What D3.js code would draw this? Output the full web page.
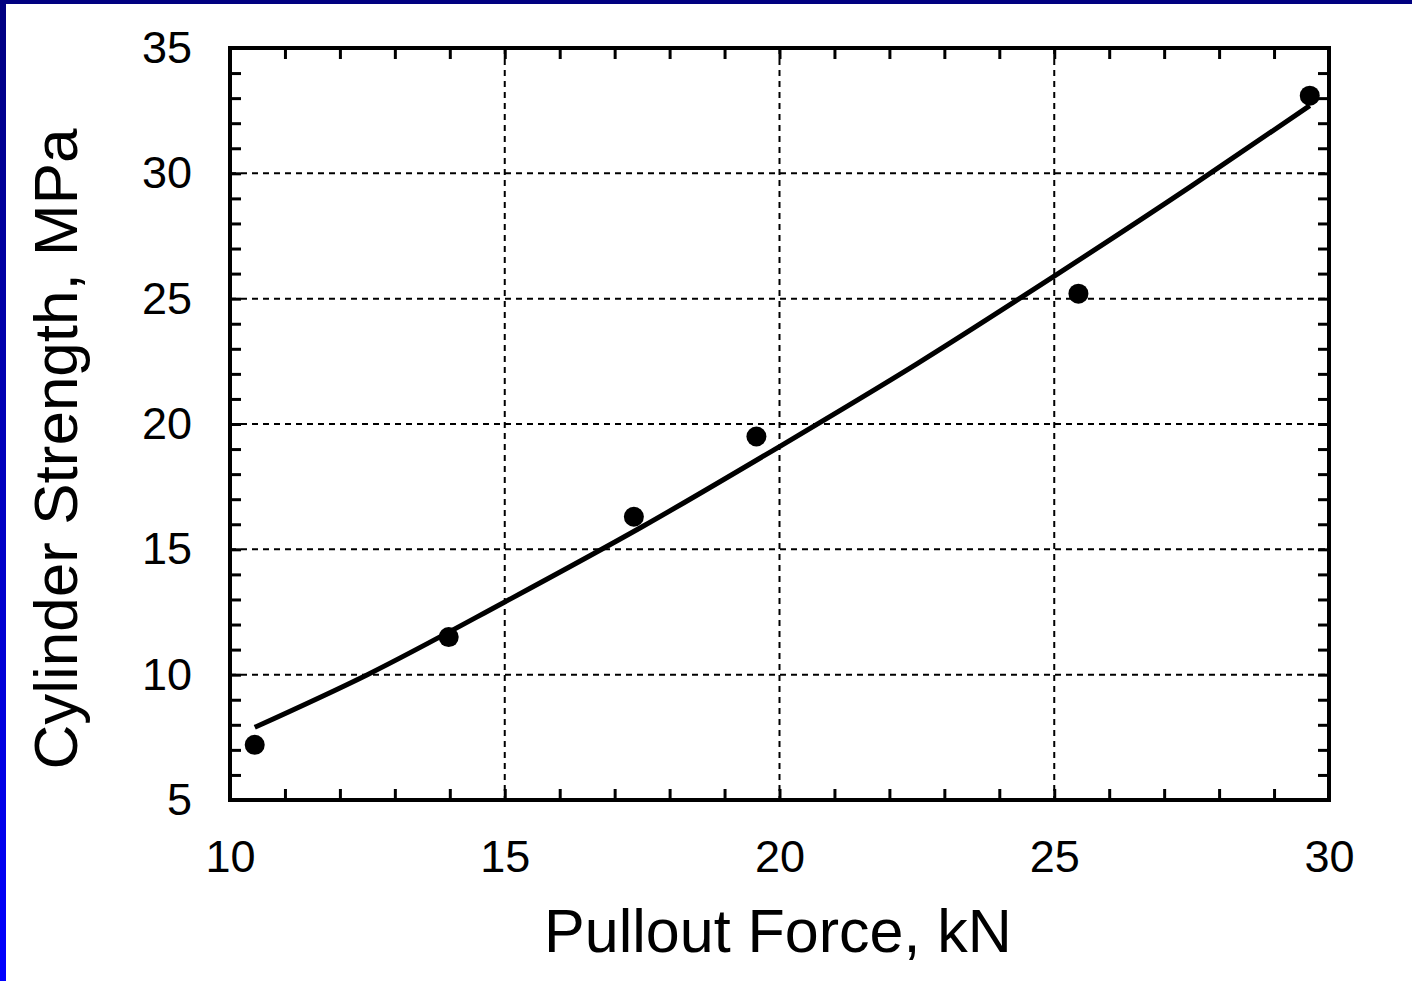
<!DOCTYPE html>
<html>
<head>
<meta charset="utf-8">
<script src="https://cdn.jsdelivr.net/npm/d3@7"></script>
<style>
  html, body { margin: 0; padding: 0; background: #fff; }
  svg { display: block; }
  text { font-family: "Liberation Sans", Arial, sans-serif; fill: #000; }
</style>
</head>
<body>
<svg id="chart" width="1412" height="981"></svg>
<script>
// Measured pullout force (kN) and cylinder strength (MPa)
const pulloutForce = [10.45, 13.98, 17.35, 19.58, 25.44, 29.65];
const cylinderStrength = [7.2, 11.5, 16.3, 19.5, 25.2, 33.1];

// Fitted correlation curve, sampled along the force range
const fitForce = [10.45, 12.5, 15, 17.5, 20, 22.5, 25, 27.5, 29.65];
const fitStrength = [7.9, 10.0, 12.9, 15.9, 19.1, 22.4, 25.9, 29.5, 32.7];

// Axis ticks
const xMajorTicks = [10, 15, 20, 25, 30];
const yMajorTicks = [5, 10, 15, 20, 25, 30, 35];
const xMinorTicks = d3.range(10, 31, 1);
const yMinorTicks = d3.range(5, 36, 1);

const xLabel = "Pullout Force, kN";
const yLabel = "Cylinder Strength, MPa";

const svg = d3.select("#chart");
const W = 1412, H = 981;
const plot = { left: 230, right: 1329, top: 48, bottom: 800 };

// Slide-style border: dark top bar and a navy-to-blue left bar
const defs = svg.append("defs");
const grad = defs.append("linearGradient").attr("id", "sideGrad")
  .attr("x1", 0).attr("y1", 0).attr("x2", 0).attr("y2", 1);
grad.append("stop").attr("offset", "0%").attr("stop-color", "#000080");
grad.append("stop").attr("offset", "100%").attr("stop-color", "#0000ff");
svg.append("rect").attr("x", 0).attr("y", 0).attr("width", W).attr("height", 4).attr("fill", "#000080");
svg.append("rect").attr("x", 0).attr("y", 0).attr("width", 6).attr("height", H).attr("fill", "url(#sideGrad)");

const x = d3.scaleLinear().domain([10, 30]).range([plot.left, plot.right]);
const y = d3.scaleLinear().domain([5, 35]).range([plot.bottom, plot.top]);

// Dashed grid at the interior major ticks
const grid = svg.append("g").attr("stroke", "#000").attr("stroke-width", 2)
  .attr("stroke-dasharray", "6,5").attr("fill", "none");
grid.selectAll("line.gx").data(xMajorTicks.slice(1, -1)).join("line")
  .attr("x1", d => x(d)).attr("x2", d => x(d))
  .attr("y1", plot.top).attr("y2", plot.bottom);
grid.selectAll("line.gy").data(yMajorTicks.slice(1, -1)).join("line")
  .attr("x1", plot.left).attr("x2", plot.right)
  .attr("y1", d => y(d)).attr("y2", d => y(d));

// Inward ticks on all four sides
const tickLen = 11;
function styleAxis(g) {
  g.select(".domain").remove();
  g.selectAll(".tick line").attr("stroke", "#000").attr("stroke-width", 3);
  g.selectAll(".tick text").attr("font-size", 45).attr("fill", "#000")
    .attr("font-family", "'Liberation Sans', Arial, sans-serif");
}
const fmtMajor = (d, list) => list.includes(d) ? String(d) : "";

svg.append("g").attr("transform", `translate(0,${plot.bottom})`)
  .call(d3.axisBottom(x).tickValues(xMinorTicks).tickSize(-tickLen).tickPadding(40)
    .tickFormat(d => fmtMajor(d, xMajorTicks)))
  .call(styleAxis);
svg.append("g").attr("transform", `translate(0,${plot.top})`)
  .call(d3.axisTop(x).tickValues(xMinorTicks).tickSize(-tickLen).tickFormat(""))
  .call(styleAxis);
svg.append("g").attr("transform", `translate(${plot.left},0)`)
  .call(d3.axisLeft(y).tickValues(yMinorTicks).tickSize(-tickLen).tickPadding(38)
    .tickFormat(d => fmtMajor(d, yMajorTicks)))
  .call(styleAxis);
svg.append("g").attr("transform", `translate(${plot.right},0)`)
  .call(d3.axisRight(y).tickValues(yMinorTicks).tickSize(-tickLen).tickFormat(""))
  .call(styleAxis);

// Plot frame
svg.append("rect")
  .attr("x", plot.left).attr("y", plot.top)
  .attr("width", plot.right - plot.left).attr("height", plot.bottom - plot.top)
  .attr("fill", "none").attr("stroke", "#000").attr("stroke-width", 4);

// Fitted curve
const fitData = fitForce.map((f, i) => [f, fitStrength[i]]);
svg.append("path").datum(fitData)
  .attr("fill", "none").attr("stroke", "#000").attr("stroke-width", 5)
  .attr("d", d3.line().x(d => x(d[0])).y(d => y(d[1])).curve(d3.curveMonotoneX));

// Measured points
const pts = pulloutForce.map((f, i) => [f, cylinderStrength[i]]);
svg.append("g").selectAll("circle").data(pts).join("circle")
  .attr("cx", d => x(d[0])).attr("cy", d => y(d[1])).attr("r", 10).attr("fill", "#000");

// Axis titles
svg.append("text").attr("x", 778).attr("y", 952).attr("text-anchor", "middle")
  .attr("font-size", 61).text(xLabel);
svg.append("text").attr("transform", `translate(77,${449}) rotate(-90)`)
  .attr("text-anchor", "middle").attr("font-size", 62).text(yLabel);
</script>
</body>
</html>
